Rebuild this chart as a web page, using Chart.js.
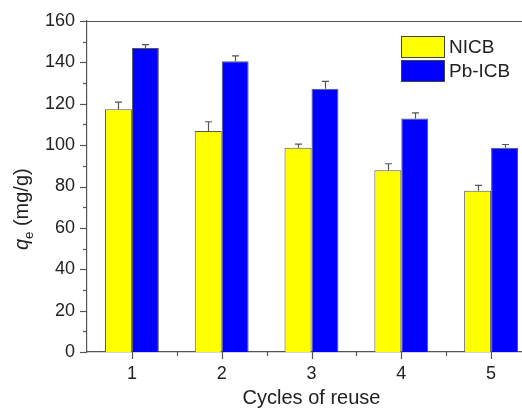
<!DOCTYPE html>
<html>
<head>
<meta charset="utf-8">
<script src="https://cdn.jsdelivr.net/npm/chart.js@4/dist/chart.umd.min.js"></script>
<style>
html,body{margin:0;padding:0;background:#fff;overflow:hidden;width:522px;height:410px;}
canvas{display:block;}
</style>
</head>
<body>
<canvas id="c" width="536" height="410"></canvas>
<script>
const cycles = ['1', '2', '3', '4', '5'];
const seriesNames = ['NICB', 'Pb-ICB'];
const nicb = [117.4, 106.8, 98.7, 87.9, 77.9];
const pbicb = [146.9, 140.6, 127.2, 112.9, 98.7];
const nicbErr = [3.4, 4.5, 1.8, 3.1, 2.6];
const pbicbErr = [1.7, 2.5, 3.6, 2.7, 1.6];
const yTickLabels = [0, 20, 40, 60, 80, 100, 120, 140, 160];
const xTitle = 'Cycles of reuse';

const FONT = '"Liberation Sans", Arial, sans-serif';
const AXIS = '#555';
const TXT = '#222';

const errMap = [nicbErr, pbicbErr];

const decor = {
  id: 'decor',
  afterDraw(chart) {
    const ctx = chart.ctx;
    const ca = chart.chartArea;
    const xs = chart.scales.x, ys = chart.scales.y;
    ctx.save();
    ctx.strokeStyle = AXIS;
    ctx.lineWidth = 1.2;
    // top border
    ctx.beginPath();
    ctx.moveTo(ca.left, ca.top + 0.5);
    ctx.lineTo(ca.right, ca.top + 0.5);
    ctx.stroke();
    // y ticks
    ys.ticks.forEach(t => {
      const py = Math.round(ys.getPixelForValue(t.value)) + 0.5;
      const major = yTickLabels.includes(t.value);
      ctx.beginPath();
      ctx.moveTo(ca.left, py);
      ctx.lineTo(ca.left - (major ? 7 : 4), py);
      ctx.stroke();
    });
    // x ticks: major at categories, minor between them
    for (let i = 0; i < cycles.length; i++) {
      const px = Math.round(xs.getPixelForValue(i)) + 0.5;
      ctx.beginPath();
      ctx.moveTo(px, ca.bottom);
      ctx.lineTo(px, ca.bottom + 7);
      ctx.stroke();
      if (i < cycles.length - 1) {
        const mx = Math.round((xs.getPixelForValue(i) + xs.getPixelForValue(i + 1)) / 2) + 0.5;
        ctx.beginPath();
        ctx.moveTo(mx, ca.bottom);
        ctx.lineTo(mx, ca.bottom + 4);
        ctx.stroke();
      }
    }
    // y title
    ctx.translate(28, 250);
    ctx.rotate(-Math.PI / 2);
    ctx.fillStyle = TXT;
    ctx.textBaseline = 'alphabetic';
    ctx.textAlign = 'left';
    let x = 0;
    ctx.font = 'italic 20px ' + FONT;
    ctx.fillText('q', x, 0);
    x += ctx.measureText('q').width;
    ctx.font = '13px ' + FONT;
    ctx.fillText('e', x, 5);
    x += ctx.measureText('e').width;
    ctx.font = '20px ' + FONT;
    ctx.fillText(' (mg/g)', x, 0);
    ctx.restore();

    // legend
    ctx.save();
    const lx = 401, ly = 36, bw = 43, bh = 21, gap = 24;
    chart.data.datasets.forEach((ds, i) => {
      const y0 = ly + i * gap;
      ctx.fillStyle = ds.backgroundColor;
      ctx.fillRect(lx, y0, bw, bh);
      ctx.strokeStyle = '#444';
      ctx.lineWidth = 1;
      ctx.strokeRect(lx + 0.5, y0 + 0.5, bw, bh);
      ctx.fillStyle = TXT;
      ctx.font = '19px ' + FONT;
      ctx.textBaseline = 'middle';
      ctx.fillText(ds.label, lx + bw + 5, y0 + bh / 2 + 1);
    });
    ctx.restore();
  },
  afterDatasetsDraw(chart) {
    const ctx = chart.ctx;
    const ys = chart.scales.y;
    ctx.save();
    ctx.strokeStyle = '#555';
    ctx.lineWidth = 1.2;
    chart.data.datasets.forEach((ds, i) => {
      const meta = chart.getDatasetMeta(i);
      meta.data.forEach((bar, j) => {
        const v = ds.data[j];
        const top = ys.getPixelForValue(v + errMap[i][j]);
        const base = ys.getPixelForValue(v);
        const px = Math.round(bar.x) + 0.5;
        ctx.beginPath();
        ctx.moveTo(px, base);
        ctx.lineTo(px, top);
        ctx.moveTo(px - 3.5, top);
        ctx.lineTo(px + 3.5, top);
        ctx.stroke();
      });
    });
    ctx.restore();
  }
};

new Chart(document.getElementById('c'), {
  type: 'bar',
  data: {
    labels: cycles,
    datasets: [
      {
        label: seriesNames[0],
        data: nicb,
        backgroundColor: '#FFFF00',
        borderColor: '#555',
        borderWidth: 1,
        categoryPercentage: 0.6,
        barPercentage: 1.0
      },
      {
        label: seriesNames[1],
        data: pbicb,
        backgroundColor: '#0000FF',
        borderColor: '#555',
        borderWidth: 1,
        categoryPercentage: 0.6,
        barPercentage: 1.0
      }
    ]
  },
  options: {
    responsive: false,
    animation: false,
    layout: {padding: {top: 21, right: 0, left: 0, bottom: 0}},
    plugins: {legend: {display: false}, tooltip: {enabled: false}},
    scales: {
      x: {
        type: 'category',
        offset: true,
        grid: {display: false, drawTicks: true, tickLength: 7},
        border: {display: true, color: AXIS, width: 1.2},
        ticks: {
          autoSkip: false,
          maxRotation: 0,
          padding: 4,
          color: TXT,
          font: {family: FONT, size: 18}
        },
        title: {display: true, text: xTitle, color: TXT, font: {family: FONT, size: 20}, padding: {top: 0, bottom: 0}},
        afterFit: s => { s.height = 58; }
      },
      y: {
        min: 0,
        max: 160,
        grid: {display: false, drawTicks: true, tickLength: 7},
        border: {display: true, color: AXIS, width: 1.2},
        ticks: {
          stepSize: 10,
          autoSkip: false,
          padding: 5,
          color: TXT,
          font: {family: FONT, size: 18},
          callback: v => yTickLabels.includes(v) ? String(v) : ''
        },
        afterFit: s => { s.width = 87; }
      }
    }
  },
  plugins: [decor]
});
</script>
</body>
</html>
